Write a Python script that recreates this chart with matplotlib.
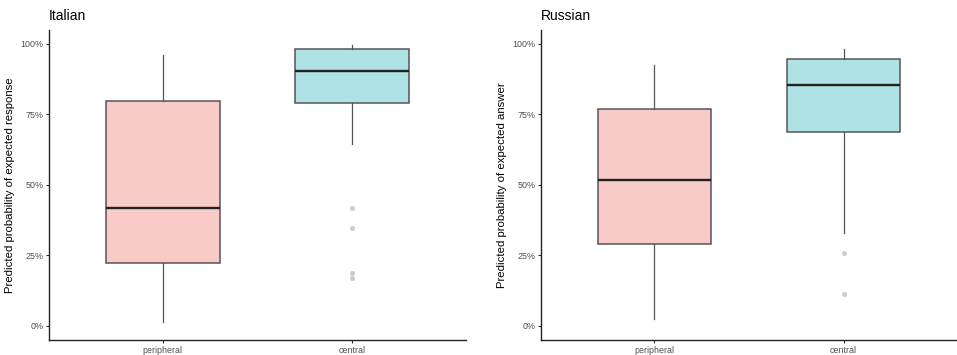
import matplotlib
matplotlib.use("Agg")
import matplotlib.pyplot as plt
from matplotlib.ticker import PercentFormatter

plt.rcParams["font.family"] = ["Liberation Sans", "DejaVu Sans"]

categories = ["peripheral", "central"]
fills = ["#F8CBC8", "#AEE2E5"]

# Box statistics: whisker low, Q1, median, Q3, whisker high
italian_stats = {
    "peripheral": [0.015, 0.222, 0.417, 0.797, 0.959],
    "central": [0.643, 0.788, 0.904, 0.979, 0.995],
}
italian_outliers = {"peripheral": [], "central": [0.419, 0.348, 0.187, 0.169]}

russian_stats = {
    "peripheral": [0.025, 0.291, 0.518, 0.767, 0.924],
    "central": [0.328, 0.686, 0.853, 0.945, 0.982],
}
russian_outliers = {"peripheral": [], "central": [0.259, 0.114]}

panels = [
    ("Italian", "Predicted probability of expected response", italian_stats, italian_outliers),
    ("Russian", "Predicted probability of expected answer", russian_stats, russian_outliers),
]

fig = plt.figure(figsize=(9.57, 3.55), dpi=100)
W, H = 957, 355
axes_px = [(49, 30, 466, 340), (541, 30, 957, 340)]

for (title, ylabel, stats, outl), (x0, y0, x1, y1) in zip(panels, axes_px):
    ax = fig.add_axes([x0 / W, 1 - y1 / H, (x1 - x0) / W, (y1 - y0) / H])
    bxp_stats = []
    for cat in categories:
        lo, q1, med, q3, hi = stats[cat]
        bxp_stats.append(dict(whislo=lo, q1=q1, med=med, q3=q3, whishi=hi,
                              fliers=outl[cat], label=cat))
    bp = ax.bxp(bxp_stats, positions=[1, 2], widths=0.6, patch_artist=True,
                showcaps=False,
                boxprops=dict(edgecolor="#555555", linewidth=1.1),
                whiskerprops=dict(color="#555555", linewidth=0.9),
                medianprops=dict(color="#222222", linewidth=1.7),
                flierprops=dict(marker="o", markersize=2.6, markerfacecolor="#CCCCCC",
                                markeredgecolor="#CCCCCC"))
    for patch, c in zip(bp["boxes"], fills):
        patch.set_facecolor(c)
    ax.set_xlim(0.4, 2.6)
    ax.set_ylim(-0.05, 1.048)
    ax.set_yticks([0, 0.25, 0.5, 0.75, 1.0])
    ax.yaxis.set_major_formatter(PercentFormatter(1.0, decimals=0))
    ax.set_xticks([1, 2])
    ax.set_xticklabels(categories)
    for s in ["top", "right"]:
        ax.spines[s].set_visible(False)
    for s in ["left", "bottom"]:
        ax.spines[s].set_color("#222222")
        ax.spines[s].set_linewidth(1.0)
    ax.tick_params(axis="both", colors="#333333", labelcolor="#4D4D4D",
                   labelsize=6.4, length=2.5, width=0.8, pad=1.5)
    ax.set_ylabel(ylabel, fontsize=8.2, color="black", labelpad=4)
    ax.set_title(title, loc="left", fontsize=10, pad=7)

fig.savefig("out.png", dpi=100)
